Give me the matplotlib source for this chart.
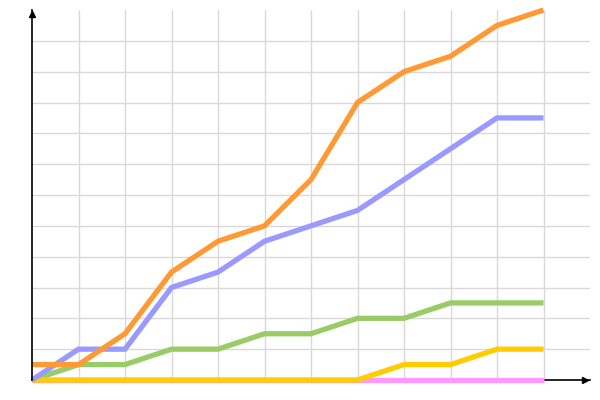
import matplotlib
matplotlib.use('Agg')
import matplotlib.pyplot as plt
import numpy as np

# values (one grid step = 2 units)
steps = list(range(12))
orange = [1, 1, 3, 7, 9, 10, 13, 18, 20, 21, 23, 24]
blue = [0, 2, 2, 6, 7, 9, 10, 11, 13, 15, 17, 17]
green = [0, 1, 1, 2, 2, 3, 3, 4, 4, 5, 5, 5]
yellow = [0, 0, 0, 0, 0, 0, 0, 0, 1, 1, 2, 2]
pink = [0, 0, 0, 0, 0, 0, 0, 0, 0, 0, 0, 0]

series = [
    (pink, '#FF99FF'),
    (green, '#99CC66'),
    (yellow, '#FFCC00'),
    (blue, '#9999FF'),
    (orange, '#FF9933'),
]

fig = plt.figure(figsize=(6, 4), dpi=100)
ax = fig.add_axes([32 / 600, 20 / 400, 558 / 600, 370 / 400])
ax.set_xlim(0, 12)
ax.set_ylim(0, 24)

# grid
for gx in range(1, 12):
    ax.plot([gx, gx], [0, 24], color='#d9d9d9', linewidth=1, zorder=1)
for gy in range(2, 24, 2):
    ax.plot([0, 12], [gy, gy], color='#d9d9d9', linewidth=1, zorder=1)

for vals, col in series:
    ax.plot(steps, vals, color=col, linewidth=3.8, solid_capstyle='butt',
            solid_joinstyle='miter', zorder=3, clip_on=False)

for s in ax.spines.values():
    s.set_visible(False)
ax.set_xticks([])
ax.set_yticks([])

# axes with arrowheads
ax.plot([0, 0], [0, 24], color='black', linewidth=1.2, zorder=4, clip_on=False)
ax.plot([0, 12], [0, 0], color='black', linewidth=1.2, zorder=2, clip_on=False)
ax.plot(0, 23.75, marker='^', markersize=5, color='black', clip_on=False, zorder=5)
ax.plot(11.9, 0, marker='>', markersize=5, color='black', clip_on=False, zorder=5)

fig.savefig('out.png', dpi=100)
